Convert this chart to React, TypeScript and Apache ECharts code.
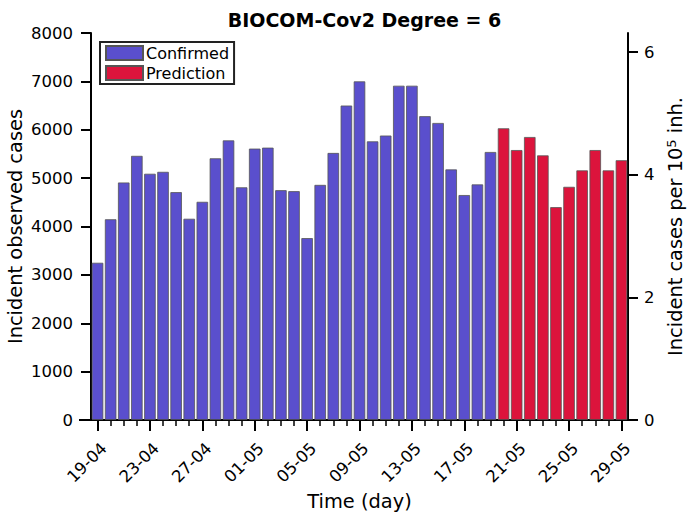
import React, { useEffect, useRef } from "react";
import * as echarts from "echarts";

const dates = [
  "19-04", "20-04", "21-04", "22-04", "23-04", "24-04", "25-04", "26-04", "27-04", "28-04", "29-04", "30-04",
  "01-05", "02-05", "03-05", "04-05", "05-05", "06-05", "07-05", "08-05", "09-05", "10-05", "11-05", "12-05",
  "13-05", "14-05", "15-05", "16-05", "17-05", "18-05", "19-05",
  "20-05", "21-05", "22-05", "23-05", "24-05", "25-05", "26-05", "27-05", "28-05", "29-05",
];

const confirmed = [
  3250, 4150, 4910, 5460, 5090, 5130, 4710, 4160, 4510, 5410, 5780, 4810,
  5610, 5630, 4750, 4730, 3760, 4860, 5520, 6500, 7000, 5760, 5880, 6910,
  6910, 6280, 6140, 5180, 4650, 4870, 5540,
];

const prediction = [6030, 5580, 5850, 5470, 4400, 4820, 5160, 5580, 5160, 5370];

const leftTicks = { min: 0, max: 8000, interval: 1000 };
const rightTicks = { min: 0, max: 6.31, interval: 2 };

const FONT = "DejaVu Sans";
const TICK_FS = 16.5;
const LABEL_FS = 19.4;

export default function App() {
  const ref = useRef<HTMLDivElement>(null);
  useEffect(() => {
    const chart = echarts.init(ref.current!, null, { renderer: "svg" });
    const confData = dates.map((_, i) => (i < confirmed.length ? confirmed[i] : null));
    const predData = dates.map((_, i) => (i >= confirmed.length ? prediction[i - confirmed.length] : null));
    chart.setOption({
      animation: false,
      textStyle: { fontFamily: FONT },
      title: {
        text: "BIOCOM-Cov2 Degree = 6",
        left: 359.5,
        textAlign: "center",
        top: 5,
        textStyle: { fontFamily: FONT, fontWeight: "bold", fontSize: 19, color: "#000" },
      },
      legend: {
        orient: "vertical",
        left: 100,
        top: 42,
        padding: [3, 5, 3, 5],
        itemGap: 4,
        itemWidth: 37,
        itemHeight: 14,
        borderColor: "#222",
        borderWidth: 2,
        backgroundColor: "#fff",
        icon: "rect",
        textStyle: { fontFamily: FONT, fontSize: 16, color: "#000", padding: [0, 0, 0, -2] },
        data: ["Confirmed", "Prediction"],
      },
      grid: { left: 91, right: 59, top: 33, bottom: 98, containLabel: false, outerBoundsMode: "none" },
      xAxis: [
        {
          type: "category",
          data: dates,
          position: "bottom",
          axisLine: { show: true, lineStyle: { color: "#000", width: 2 } },
          axisTick: { show: true, interval: 0, alignWithLabel: true, length: 6, lineStyle: { color: "#000", width: 1.5 } },
          axisLabel: { show: false },
          splitLine: { show: false },
        },
        {
          type: "category",
          data: dates,
          position: "bottom",
          name: "Time (day)",
          nameLocation: "middle",
          nameGap: 72,
          nameMoveOverlap: false,
          nameTextStyle: { fontFamily: FONT, fontSize: LABEL_FS, color: "#000" },
          axisLine: { show: false },
          axisTick: { show: true, interval: 3, alignWithLabel: true, length: 11, lineStyle: { color: "#000", width: 2 } },
          axisLabel: {
            interval: 3,
            rotate: 45,
            fontSize: TICK_FS,
            color: "#000",
            margin: 32,
            padding: [0, -9, 0, 0],
            fontFamily: FONT,
          },
          splitLine: { show: false },
        },
      ],
      yAxis: [
        {
          type: "value",
          min: leftTicks.min,
          max: leftTicks.max,
          interval: leftTicks.interval,
          position: "left",
          name: "Incident observed cases",
          nameLocation: "middle",
          nameRotate: 90,
          nameGap: 66,
          nameMoveOverlap: false,
          nameTextStyle: { fontFamily: FONT, fontSize: LABEL_FS, color: "#000" },
          axisLine: { show: true, lineStyle: { color: "#000", width: 2 } },
          axisTick: { show: true, length: 10, lineStyle: { color: "#000", width: 2 } },
          axisLabel: { fontSize: TICK_FS, color: "#000", margin: 18, fontFamily: FONT, formatter: (v: number) => String(v) },
          splitLine: { show: false },
        },
        {
          type: "value",
          min: rightTicks.min,
          max: rightTicks.max,
          interval: rightTicks.interval,
          position: "right",
          name: "{a|Incident cases per 10}{b|5}{a| inh.}",
          nameLocation: "middle",
          nameRotate: 90,
          nameGap: 35,
          nameTextStyle: {
            fontFamily: FONT,
            color: "#000",
            rich: {
              a: { fontSize: LABEL_FS, fontFamily: FONT, color: "#000", lineHeight: 20 },
              b: { fontSize: 13, fontFamily: FONT, color: "#000", verticalAlign: "top", lineHeight: 20, padding: [0, 0, 8, 0] },
            },
          },
          axisLine: { show: true, lineStyle: { color: "#000", width: 2 } },
          axisTick: { show: true, length: 10, lineStyle: { color: "#000", width: 2 } },
          axisLabel: { fontSize: TICK_FS, color: "#000", margin: 16, showMaxLabel: false, fontFamily: FONT },
          splitLine: { show: false },
        },
      ],
      series: [
        {
          name: "Confirmed",
          type: "bar",
          stack: "s",
          xAxisIndex: 0,
          yAxisIndex: 0,
          data: confData,
          barCategoryGap: "12%",
          itemStyle: { color: "#5a4fcd", borderColor: "#555", borderWidth: 0.8 },
        },
        {
          name: "Prediction",
          type: "bar",
          stack: "s",
          xAxisIndex: 0,
          yAxisIndex: 0,
          data: predData,
          barCategoryGap: "12%",
          itemStyle: { color: "#dc143c", borderColor: "#555", borderWidth: 0.8 },
        },
      ],
      graphic: [
        {
          type: "line",
          shape: { x1: 79, y1: 420, x2: 92, y2: 420 },
          style: { stroke: "#000", lineWidth: 2 },
          z: 100,
        },
      ],
    });
    return () => chart.dispose();
  }, []);
  return <div ref={ref} style={{ position: "fixed", left: 0, top: 0, width: 687, height: 518, background: "#fff" }} />;
}
